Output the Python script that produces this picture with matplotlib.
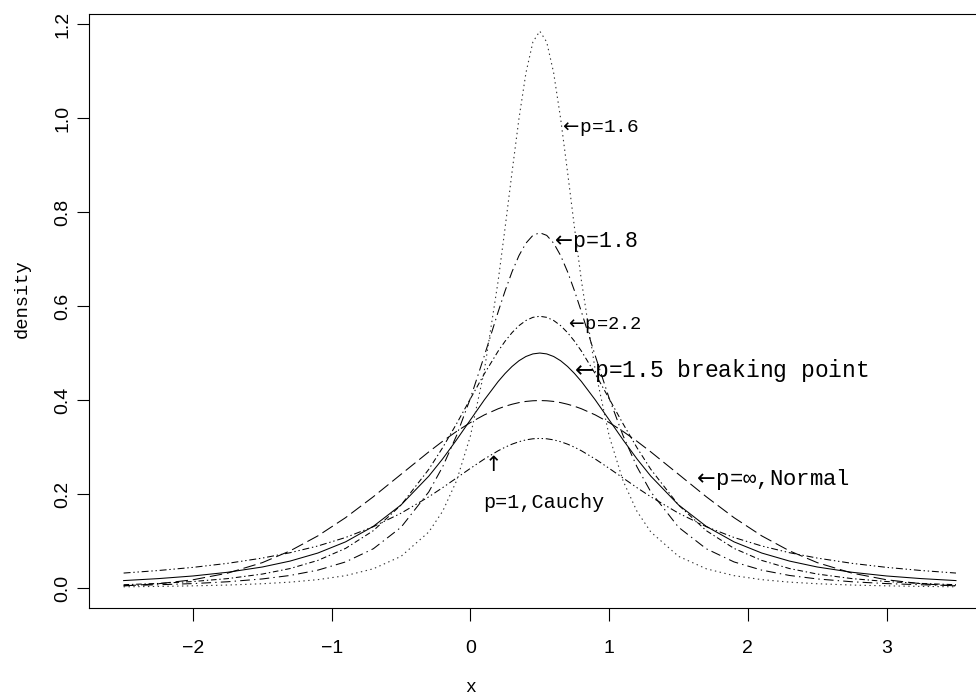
import matplotlib
matplotlib.use("Agg")
import matplotlib.pyplot as plt

plt.rcParams['lines.scale_dashes'] = False
plt.rcParams['mathtext.fontset'] = 'dejavusans'
MONO = ['Liberation Mono', 'DejaVu Sans Mono']
SANS = ['Liberation Sans', 'DejaVu Sans']

# x grid (symmetric around the common centre 0.5)
x = [-2.5, -2.25, -2.0, -1.75, -1.5, -1.3, -1.1, -0.9, -0.7, -0.5, -0.3, -0.2,
     -0.1, 0.0, 0.1, 0.2, 0.25, 0.3, 0.35, 0.4, 0.45, 0.5, 0.55, 0.6, 0.65,
     0.7, 0.75, 0.8, 0.9, 1.0, 1.1, 1.2, 1.3, 1.5, 1.7, 1.9, 2.1, 2.3, 2.5,
     2.75, 3.0, 3.25, 3.5]

# densities
d_cauchy = [0.0318, 0.0372, 0.0439, 0.0525, 0.0637, 0.0751, 0.0894, 0.1075, 0.1305,
            0.1592, 0.1941, 0.2136, 0.2341, 0.2546, 0.2744, 0.2920, 0.2996, 0.3061,
            0.3113, 0.3152, 0.3175, 0.3183, 0.3175, 0.3152, 0.3113, 0.3061, 0.2996,
            0.2920, 0.2744, 0.2546, 0.2341, 0.2136, 0.1941, 0.1592, 0.1305, 0.1075,
            0.0894, 0.0751, 0.0637, 0.0525, 0.0439, 0.0372, 0.0318]
d_normal = [0.0044, 0.0091, 0.0175, 0.0317, 0.0540, 0.0790, 0.1109, 0.1497, 0.1942,
            0.2420, 0.2897, 0.3123, 0.3332, 0.3521, 0.3683, 0.3814, 0.3867, 0.3910,
            0.3945, 0.3970, 0.3984, 0.3989, 0.3984, 0.3970, 0.3945, 0.3910, 0.3867,
            0.3814, 0.3683, 0.3521, 0.3332, 0.3123, 0.2897, 0.2420, 0.1942, 0.1497,
            0.1109, 0.0790, 0.0540, 0.0317, 0.0175, 0.0091, 0.0044]
d_p15 = [0.0158, 0.0200, 0.0256, 0.0335, 0.0447, 0.0573, 0.0744, 0.0982, 0.1312,
         0.1768, 0.2381, 0.2749, 0.3153, 0.3578, 0.4002, 0.4394, 0.4565, 0.4714,
         0.4836, 0.4926, 0.4981, 0.5000, 0.4981, 0.4926, 0.4836, 0.4714, 0.4565,
         0.4394, 0.4002, 0.3578, 0.3153, 0.2749, 0.2381, 0.1768, 0.1312, 0.0982,
         0.0744, 0.0573, 0.0447, 0.0335, 0.0256, 0.0200, 0.0158]
d_p22 = [0.0070, 0.0097, 0.0138, 0.0200, 0.0297, 0.0414, 0.0587, 0.0843, 0.1220,
         0.1766, 0.2526, 0.2988, 0.3495, 0.4028, 0.4557, 0.5041, 0.5252, 0.5434,
         0.5583, 0.5692, 0.5759, 0.5782, 0.5759, 0.5692, 0.5583, 0.5434, 0.5252,
         0.5041, 0.4557, 0.4028, 0.3495, 0.2988, 0.2526, 0.1766, 0.1220, 0.0843,
         0.0587, 0.0414, 0.0297, 0.0200, 0.0138, 0.0097, 0.0070]
d_p18 = [0.0051, 0.0069, 0.0094, 0.0133, 0.0193, 0.0267, 0.0380, 0.0555, 0.0835,
         0.1293, 0.2046, 0.2581, 0.3244, 0.4038, 0.4939, 0.5878, 0.6324, 0.6730,
         0.7074, 0.7337, 0.7503, 0.7559, 0.7503, 0.7337, 0.7074, 0.6730, 0.6324,
         0.5878, 0.4939, 0.4038, 0.3244, 0.2581, 0.2046, 0.1293, 0.0835, 0.0555,
         0.0380, 0.0267, 0.0193, 0.0133, 0.0094, 0.0069, 0.0051]
d_p16 = [0.0026, 0.0034, 0.0046, 0.0063, 0.0091, 0.0125, 0.0178, 0.0263, 0.0409,
         0.0674, 0.1193, 0.1634, 0.2282, 0.3237, 0.4626, 0.6539, 0.7669, 0.8851,
         0.9991, 1.0959, 1.1616, 1.1849, 1.1616, 1.0959, 0.9991, 0.8851, 0.7669,
         0.6539, 0.4626, 0.3237, 0.2282, 0.1634, 0.1193, 0.0674, 0.0409, 0.0263,
         0.0178, 0.0125, 0.0091, 0.0063, 0.0046, 0.0034, 0.0026]

xticks = [-2, -1, 0, 1, 2, 3]
yticks = [0.0, 0.2, 0.4, 0.6, 0.8, 1.0, 1.2]

fig = plt.figure(figsize=(9.76, 6.98), dpi=100)
# right edge of the box lies just beyond the picture, as in the original
ax = fig.add_axes([0.0917, 0.1289, 0.9226, 0.851])

lw = 0.75
ax.plot(x, d_p15, color='black', lw=lw)
ax.plot(x, d_normal, color='black', lw=lw, dashes=(9, 3.5))
ax.plot(x, d_cauchy, color='black', lw=lw, dashes=(5, 2, 1, 2, 1, 2))
ax.plot(x, d_p22, color='black', lw=lw, dashes=(4, 2, 1, 2))
ax.plot(x, d_p18, color='black', lw=lw, dashes=(7, 3, 1, 3))
ax.plot(x, d_p16, color='0.2', lw=0.8, dashes=(1, 2.5))

ax.set_xlim(-2.746, 3.745)
ax.set_ylim(-0.0426, 1.2213)
ax.set_xticks(xticks)
ax.set_xticklabels(['\u22122' if v == -2 else '\u22121' if v == -1 else str(v) for v in xticks],
                   family=SANS, fontsize=14)
ax.set_yticks(yticks)
ax.set_yticklabels([f'{v:.1f}' for v in yticks], family=SANS, fontsize=14,
                   rotation=90, va='center')
ax.tick_params(axis='x', length=9, width=0.8, pad=14)
ax.tick_params(axis='y', length=9, width=0.8, pad=4)
for s in ax.spines.values():
    s.set_linewidth(0.8)

fig.text(471 / 976, 1 - 688 / 698, 'x', family=MONO, fontsize=13,
         ha='center', va='center')
fig.text(22 / 976, 1 - 299 / 698, 'density', family=MONO, fontsize=13.5,
         rotation=90, ha='center', va='center')

arr = r'$\leftarrow\!$'
ax.text(0.640, 0.979, arr + 'p=1.6', family=MONO, fontsize=14, va='center')
ax.text(0.570, 0.737, arr + 'p=1.8', family=MONO, fontsize=15.5, va='center')
ax.text(0.680, 0.560, arr + 'p=2.2', family=MONO, fontsize=13.5, va='center')
ax.text(0.715, 0.462, arr + 'p=1.5 breaking point', family=MONO, fontsize=16.5,
        va='center')
ax.text(1.595, 0.230, arr + 'p=\u221e,Normal', family=MONO, fontsize=16,
        va='center')
ax.text(0.140, 0.262, r'$\uparrow$', family=MONO, fontsize=15, ha='center', va='center')
ax.text(0.089, 0.183, 'p=1,Cauchy', family=MONO, fontsize=14.5, va='center')

fig.savefig('out.png', dpi=100)
